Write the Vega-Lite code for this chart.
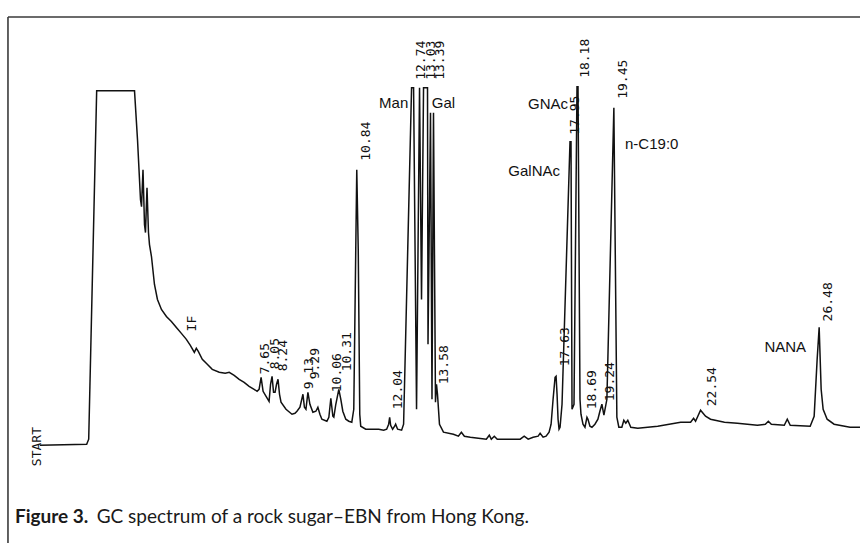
{
  "$schema": "https://vega.github.io/schema/vega-lite/v6.json",
  "width": 863,
  "height": 544,
  "autosize": {"type": "fit", "contains": "padding"},
  "padding": 0,
  "background": "white",
  "config": {"view": {"stroke": null}},
  "datasets": {
    "trace": [
      {"t":0.185,"s":0},{"t":1.765,"s":1},{"t":1.833,"s":6},{"t":2.102,"s":355},{"t":3.379,"s":355},
      {"t":3.480,"s":306},{"t":3.581,"s":246},{"t":3.615,"s":239},{"t":3.665,"s":276},{"t":3.716,"s":221},
      {"t":3.749,"s":213},{"t":3.800,"s":258},{"t":3.850,"s":213},{"t":3.884,"s":201},{"t":3.951,"s":189},
      {"t":4.052,"s":161},{"t":4.153,"s":146},{"t":4.287,"s":136},{"t":4.455,"s":129},{"t":4.623,"s":124},
      {"t":4.792,"s":118},{"t":4.960,"s":112},{"t":5.128,"s":106},{"t":5.262,"s":100},{"t":5.397,"s":93},
      {"t":5.464,"s":97},{"t":5.531,"s":94},{"t":5.666,"s":86},{"t":5.834,"s":81},{"t":6.002,"s":76},
      {"t":6.237,"s":73},{"t":6.439,"s":72},{"t":6.574,"s":73},{"t":6.742,"s":70},{"t":6.910,"s":66},
      {"t":7.078,"s":63},{"t":7.246,"s":59},{"t":7.414,"s":56},{"t":7.515,"s":54},{"t":7.582,"s":56},
      {"t":7.650,"s":68},{"t":7.717,"s":54},{"t":7.818,"s":49},{"t":7.919,"s":44},{"t":7.969,"s":61},
      {"t":8.020,"s":69},{"t":8.070,"s":53},{"t":8.121,"s":53},{"t":8.171,"s":61},{"t":8.221,"s":66},
      {"t":8.272,"s":51},{"t":8.322,"s":43},{"t":8.490,"s":36},{"t":8.692,"s":31},{"t":8.793,"s":32},
      {"t":8.860,"s":34},{"t":8.961,"s":38},{"t":9.062,"s":51},{"t":9.112,"s":38},{"t":9.163,"s":36},
      {"t":9.230,"s":53},{"t":9.297,"s":41},{"t":9.398,"s":33},{"t":9.499,"s":34},{"t":9.566,"s":38},
      {"t":9.634,"s":31},{"t":9.701,"s":26},{"t":9.869,"s":24},{"t":9.936,"s":28},{"t":10.003,"s":47},
      {"t":10.071,"s":29},{"t":10.104,"s":28},{"t":10.171,"s":41},{"t":10.272,"s":56},{"t":10.340,"s":46},
      {"t":10.407,"s":34},{"t":10.508,"s":26},{"t":10.609,"s":24},{"t":10.710,"s":23},{"t":10.777,"s":36},
      {"t":10.844,"s":196},{"t":10.878,"s":276},{"t":10.928,"s":196},{"t":10.979,"s":31},{"t":11.012,"s":19},
      {"t":11.180,"s":16},{"t":11.382,"s":16},{"t":11.618,"s":16},{"t":11.786,"s":15},{"t":11.887,"s":16},
      {"t":11.954,"s":21},{"t":11.988,"s":28},{"t":12.021,"s":20},{"t":12.088,"s":16},{"t":12.156,"s":19},
      {"t":12.189,"s":21},{"t":12.256,"s":16},{"t":12.391,"s":15},{"t":12.458,"s":21},{"t":12.727,"s":358},
      {"t":12.795,"s":358},{"t":12.895,"s":36},{"t":12.996,"s":358},{"t":13.063,"s":146},{"t":13.131,"s":358},
      {"t":13.265,"s":358},{"t":13.282,"s":101},{"t":13.366,"s":333},{"t":13.416,"s":46},{"t":13.467,"s":333},
      {"t":13.534,"s":43},{"t":13.568,"s":61},{"t":13.602,"s":51},{"t":13.669,"s":21},{"t":13.803,"s":13},
      {"t":14.139,"s":11},{"t":14.307,"s":9},{"t":14.408,"s":13},{"t":14.509,"s":9},{"t":14.711,"s":8},
      {"t":14.980,"s":7},{"t":15.249,"s":6},{"t":15.350,"s":10},{"t":15.417,"s":6},{"t":15.518,"s":9},
      {"t":15.619,"s":6},{"t":15.820,"s":6},{"t":16.157,"s":6},{"t":16.392,"s":6},{"t":16.527,"s":9},
      {"t":16.661,"s":6},{"t":16.829,"s":8},{"t":16.998,"s":9},{"t":17.065,"s":12},{"t":17.165,"s":8},
      {"t":17.266,"s":9},{"t":17.367,"s":13},{"t":17.435,"s":21},{"t":17.502,"s":46},{"t":17.569,"s":68},
      {"t":17.603,"s":69},{"t":17.636,"s":51},{"t":17.670,"s":26},{"t":17.703,"s":16},{"t":17.737,"s":18},
      {"t":17.804,"s":41},{"t":18.073,"s":304},{"t":18.107,"s":304},{"t":18.141,"s":36},{"t":18.208,"s":41},
      {"t":18.309,"s":359},{"t":18.343,"s":359},{"t":18.410,"s":46},{"t":18.443,"s":31},{"t":18.511,"s":21},
      {"t":18.578,"s":18},{"t":18.645,"s":28},{"t":18.679,"s":26},{"t":18.746,"s":19},{"t":18.813,"s":18},
      {"t":18.914,"s":21},{"t":19.015,"s":26},{"t":19.082,"s":34},{"t":19.149,"s":41},{"t":19.217,"s":30},
      {"t":19.318,"s":46},{"t":19.553,"s":338},{"t":19.654,"s":28},{"t":19.721,"s":18},{"t":19.822,"s":18},
      {"t":19.889,"s":25},{"t":19.956,"s":22},{"t":20.023,"s":25},{"t":20.124,"s":18},{"t":20.360,"s":17},
      {"t":21.032,"s":19},{"t":21.806,"s":23},{"t":22.142,"s":23},{"t":22.243,"s":27},{"t":22.310,"s":24},
      {"t":22.478,"s":35},{"t":22.646,"s":29},{"t":22.814,"s":26},{"t":23.285,"s":23},{"t":23.722,"s":22},
      {"t":24.395,"s":20},{"t":24.664,"s":21},{"t":24.765,"s":24},{"t":24.866,"s":21},{"t":25.303,"s":20},
      {"t":25.404,"s":26},{"t":25.504,"s":20},{"t":26.177,"s":19},{"t":26.311,"s":29},{"t":26.412,"s":86},
      {"t":26.480,"s":118},{"t":26.547,"s":56},{"t":26.614,"s":36},{"t":26.749,"s":26},{"t":26.984,"s":21},
      {"t":27.522,"s":18},{"t":27.858,"s":18}
    ],
    "peaks": [
      {"t":7.784,"s":71,"label":"7.65"},
      {"t":8.121,"s":76,"label":"8.05"},
      {"t":8.390,"s":74,"label":"8.24"},
      {"t":9.264,"s":56,"label":"9.13"},
      {"t":9.465,"s":66,"label":"9.29"},
      {"t":10.205,"s":53,"label":"10.06"},
      {"t":10.541,"s":74,"label":"10.31"},
      {"t":11.180,"s":285,"label":"10.84"},
      {"t":12.256,"s":36,"label":"12.04"},
      {"t":13.030,"s":366,"label":"12.74"},
      {"t":13.366,"s":366,"label":"13.03"},
      {"t":13.702,"s":366,"label":"13.39"},
      {"t":13.837,"s":61,"label":"13.58"},
      {"t":17.905,"s":79,"label":"17.63"},
      {"t":18.241,"s":311,"label":"17.95"},
      {"t":18.578,"s":368,"label":"18.18"},
      {"t":18.813,"s":36,"label":"18.69"},
      {"t":19.418,"s":44,"label":"19.24"},
      {"t":19.856,"s":347,"label":"19.45"},
      {"t":22.848,"s":39,"label":"22.54"},
      {"t":26.783,"s":124,"label":"26.48"},
      {"t":5.330,"s":114,"label":"IF"},
      {"t":0.084,"s":-21,"label":"START"}
    ],
    "names": [
      {"t":12.122,"s":343,"label":"Man"},
      {"t":13.803,"s":343,"label":"Gal"},
      {"t":17.334,"s":342,"label":"GNAc"},
      {"t":16.863,"s":275,"label":"GalNAc"},
      {"t":20.830,"s":302,"label":"n-C19:0"},
      {"t":25.337,"s":98,"label":"NANA"}
    ],
    "frame": [
      {"t1":-0.891,"t2":27.858,"s1":429,"s2":429},
      {"t1":-0.891,"t2":-0.891,"s1":429,"s2":-98}
    ],
    "caption": [
      {"t":-0.656,"s":-72,"label":"Figure 3.","part":"bold"},
      {"t":2.102,"s":-72,"label":"GC spectrum of a rock sugar–EBN from Hong Kong.","part":"normal"}
    ]
  },
  "layer": [
    {
      "data": {"name": "frame"},
      "mark": {"type": "rule", "color": "#3a3a3a", "strokeWidth": 1.6},
      "encoding": {
        "x": {"field": "t1", "type": "quantitative", "scale": {"domain": [-1.16, 27.858], "nice": false, "zero": false}, "axis": null},
        "x2": {"field": "t2"},
        "y": {"field": "s1", "type": "quantitative", "scale": {"domain": [-98, 446], "nice": false, "zero": false}, "axis": null},
        "y2": {"field": "s2"}
      }
    },
    {
      "data": {"name": "trace"},
      "mark": {"type": "line", "color": "#111111", "strokeWidth": 1.5, "interpolate": "linear"},
      "encoding": {
        "x": {"field": "t", "type": "quantitative", "scale": {"domain": [-1.16, 27.858], "nice": false, "zero": false}, "axis": null},
        "y": {"field": "s", "type": "quantitative", "scale": {"domain": [-98, 446], "nice": false, "zero": false}, "axis": null}
      }
    },
    {
      "data": {"name": "peaks"},
      "mark": {"type": "text", "angle": 270, "align": "left", "baseline": "middle", "font": "DejaVu Sans Mono", "fontSize": 13, "color": "#111111"},
      "encoding": {
        "x": {"field": "t", "type": "quantitative"},
        "y": {"field": "s", "type": "quantitative"},
        "text": {"field": "label"}
      }
    },
    {
      "data": {"name": "names"},
      "mark": {"type": "text", "align": "center", "baseline": "middle", "font": "Liberation Sans", "fontSize": 15, "color": "#111111"},
      "encoding": {
        "x": {"field": "t", "type": "quantitative"},
        "y": {"field": "s", "type": "quantitative"},
        "text": {"field": "label"}
      }
    },
    {
      "data": {"name": "caption"},
      "transform": [{"filter": "datum.part == 'bold'"}],
      "mark": {"type": "text", "align": "left", "baseline": "middle", "font": "Lato", "fontSize": 19, "fontWeight": "bold", "color": "#1a1a1a"},
      "encoding": {
        "x": {"field": "t", "type": "quantitative"},
        "y": {"field": "s", "type": "quantitative"},
        "text": {"field": "label"}
      }
    },
    {
      "data": {"name": "caption"},
      "transform": [{"filter": "datum.part == 'normal'"}],
      "mark": {"type": "text", "align": "left", "baseline": "middle", "font": "Lato", "fontSize": 19, "color": "#1a1a1a"},
      "encoding": {
        "x": {"field": "t", "type": "quantitative"},
        "y": {"field": "s", "type": "quantitative"},
        "text": {"field": "label"}
      }
    }
  ]
}
